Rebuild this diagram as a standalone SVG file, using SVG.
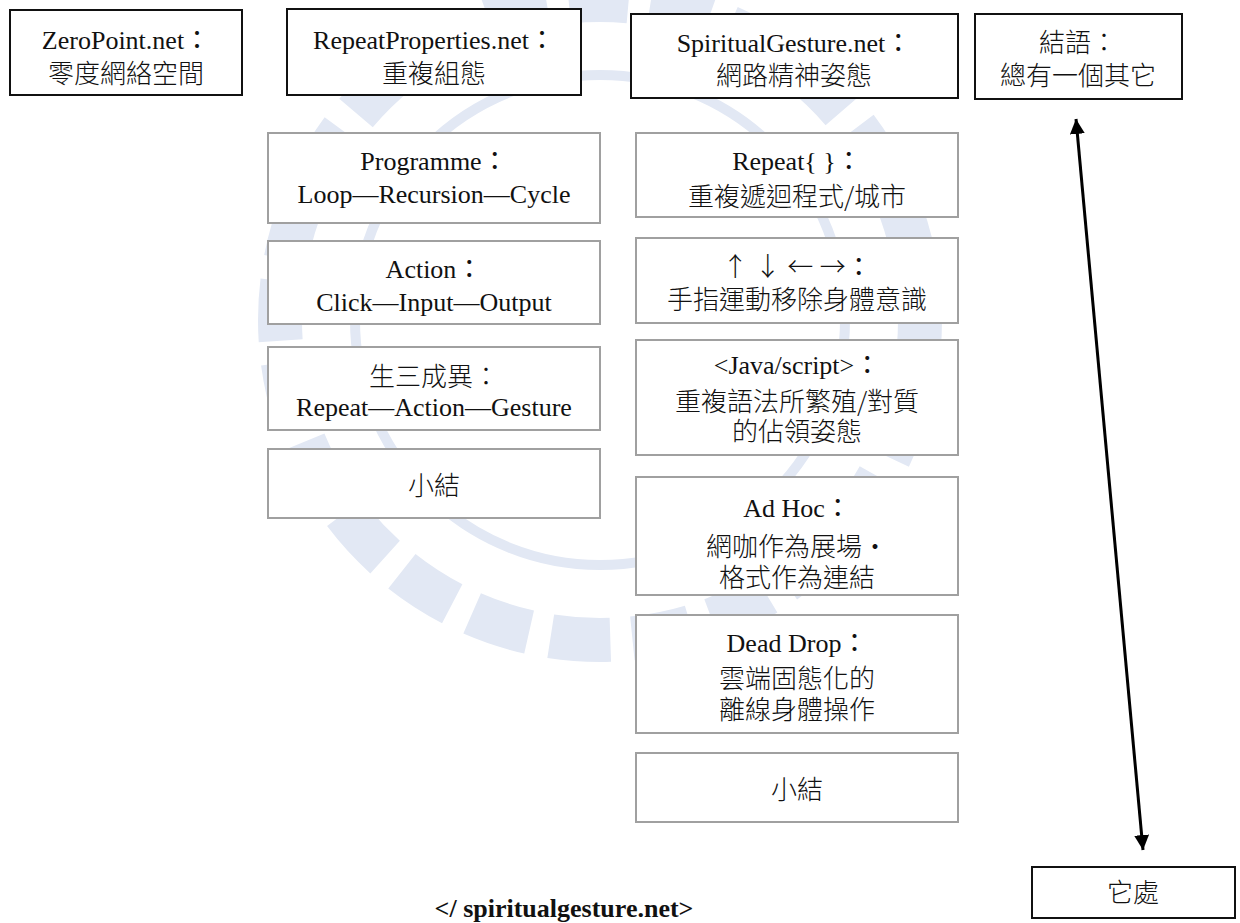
<svg xmlns="http://www.w3.org/2000/svg" width="1240" height="923" viewBox="0 0 1240 923">
  <style>
    text { font-family: "Liberation Serif", "Noto Sans CJK TC", serif; font-size: 26px; fill: #111; text-anchor: middle; }
    .cjk { font-family: "Noto Sans CJK TC", "Liberation Serif", sans-serif; font-weight: 300; }
    .main { fill: #fff; stroke: #111; stroke-width: 2; }
    .sub { fill: #fff; stroke: #a0a0a0; stroke-width: 2; }
    .foot { font-weight: bold; }
    .wm { fill: none; stroke: #e2e8f4; }
  </style>
  <defs>
    <marker id="tip" viewBox="0 0 15 15" refX="15" refY="7.5" markerWidth="15" markerHeight="15" markerUnits="userSpaceOnUse" orient="auto-start-reverse">
      <path d="M0,0 L15,7.5 L0,15 Z" fill="#000"/>
    </marker>
  </defs>

  <rect width="1240" height="923" fill="#fff"/>

  <!-- faint background emblem -->
  <g id="emblem">
    <circle class="wm" cx="600" cy="320" r="320" stroke-width="44" stroke-dasharray="60 22"/>
    <circle class="wm" cx="600" cy="320" r="245" stroke-width="10"/>
  </g>

  <!-- top row chapters -->
  <g id="zeropoint">
    <rect class="main" x="10" y="10" width="232" height="85"/>
    <text x="126" y="49">ZeroPoint.net：<tspan class="cjk" x="126" dy="34">零度網絡空間</tspan></text>
  </g>
  <g id="repeatproperties">
    <rect class="main" x="287" y="9" width="294" height="86"/>
    <text x="434" y="49">RepeatProperties.net：<tspan class="cjk" x="434" dy="34">重複組態</tspan></text>
  </g>
  <g id="spiritualgesture">
    <rect class="main" x="631" y="14" width="327" height="84"/>
    <text x="794" y="52">SpiritualGesture.net：<tspan class="cjk" x="794" dy="33">網路精神姿態</tspan></text>
  </g>
  <g id="conclusion">
    <rect class="main" x="975" y="14" width="207" height="85"/>
    <text class="cjk" x="1078" y="52">結語：<tspan x="1078" dy="33">總有一個其它</tspan></text>
  </g>

  <!-- RepeatProperties sections -->
  <g id="programme">
    <rect class="sub" x="268" y="133" width="332" height="90"/>
    <text x="434" y="170">Programme：<tspan x="434" dy="33">Loop—Recursion—Cycle</tspan></text>
  </g>
  <g id="action">
    <rect class="sub" x="268" y="241" width="332" height="83"/>
    <text x="434" y="278">Action：<tspan x="434" dy="33">Click—Input—Output</tspan></text>
  </g>
  <g id="shengsan">
    <rect class="sub" x="268" y="347" width="332" height="83"/>
    <text x="434" y="386"><tspan class="cjk">生三成異：</tspan><tspan x="434" dy="30">Repeat—Action—Gesture</tspan></text>
  </g>
  <g id="summary-left">
    <rect class="sub" x="268" y="449" width="332" height="69"/>
    <text class="cjk" x="434" y="495">小結</text>
  </g>

  <!-- SpiritualGesture sections -->
  <g id="repeat-braces">
    <rect class="sub" x="636" y="133" width="322" height="84"/>
    <text x="797" y="170">Repeat{ }：<tspan class="cjk" x="797" dy="36">重複遞迴程式/城市</tspan></text>
  </g>
  <g id="arrow-keys">
    <rect class="sub" x="636" y="238" width="322" height="85"/>
    <text x="797" y="276"><tspan class="cjk">↑</tspan> <tspan class="cjk">↓</tspan> <tspan class="cjk">←</tspan> <tspan class="cjk">→</tspan>：<tspan class="cjk" x="797" dy="33">手指運動移除身體意識</tspan></text>
  </g>
  <g id="javascript">
    <rect class="sub" x="636" y="340" width="322" height="115"/>
    <text x="797" y="374">&lt;Java/script&gt;：<tspan class="cjk" x="797" dy="37">重複語法所繁殖/對質</tspan><tspan class="cjk" x="797" dy="30">的佔領姿態</tspan></text>
  </g>
  <g id="adhoc">
    <rect class="sub" x="636" y="477" width="322" height="118"/>
    <text x="797" y="517">Ad Hoc：<tspan class="cjk" x="797" dy="39">網咖作為展場•</tspan><tspan class="cjk" x="797" dy="31">格式作為連結</tspan></text>
  </g>
  <g id="deaddrop">
    <rect class="sub" x="636" y="615" width="322" height="118"/>
    <text x="797" y="652">Dead Drop：<tspan class="cjk" x="797" dy="36">雲端固態化的</tspan><tspan class="cjk" x="797" dy="31">離線身體操作</tspan></text>
  </g>
  <g id="summary-right">
    <rect class="sub" x="636" y="753" width="322" height="69"/>
    <text class="cjk" x="797" y="799">小結</text>
  </g>

  <!-- elsewhere -->
  <g id="elsewhere">
    <rect class="main" x="1032" y="867" width="203" height="51"/>
    <text class="cjk" x="1133" y="902">它處</text>
  </g>

  <g id="connectors">
    <line x1="1076" y1="119" x2="1143" y2="850" stroke="#000" stroke-width="3" marker-start="url(#tip)" marker-end="url(#tip)"/>
  </g>

  <text class="foot" x="564" y="917">&lt;/ spiritualgesture.net&gt;</text>
</svg>
